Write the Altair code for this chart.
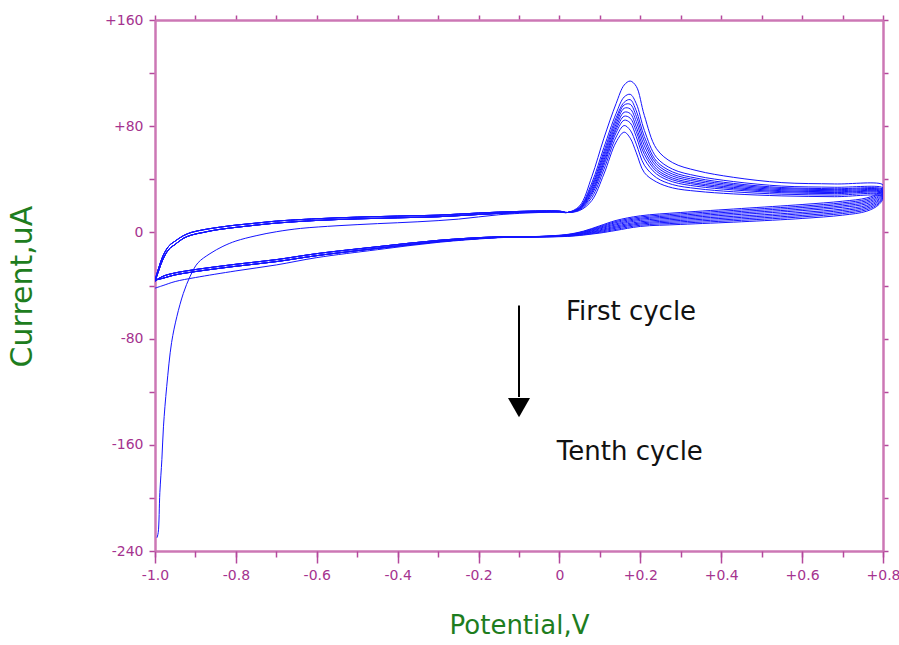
import altair as alt
import pandas as pd

# ---------------- data ----------------
# forward (anodic) scan, common start for cycles 2-10
base_x = [-1.0, -0.99, -0.98, -0.965, -0.95, -0.93, -0.91, -0.88, -0.85, -0.8,
          -0.75, -0.7, -0.6, -0.5, -0.4, -0.3, -0.2, -0.1, 0.0]
base_a = [-37, -28, -20, -12.5, -9, -4.5, -2, 0, 1.8, 3.8,
          5.5, 7, 9, 10.2, 11, 11.8, 13.5, 15, 15.5]
base_b = [-36, -26, -17.5, -10, -6.5, -2.5, 0, 2, 3.5, 5.5,
          7, 8.5, 10.3, 11.5, 12.3, 13, 14.6, 15.8, 16]

# first cycle starts from a strong cathodic current
first_x = [-0.995, -0.992, -0.988, -0.983, -0.979, -0.971, -0.959, -0.946, -0.93, -0.913,
           -0.894, -0.864, -0.832, -0.8, -0.75, -0.7, -0.64, -0.55, -0.45, -0.35,
           -0.25, -0.15, -0.05, 0.0]
first_y = [-230, -226, -196, -171, -146, -116, -83, -63.5, -46, -33,
           -23, -16, -10.5, -6.5, -2.5, 0.5, 3, 5, 6.6, 8,
           10, 13.3, 15, 15.3]

# oxidation peak region, one row per cycle (1st .. 10th)
peak_x = [0.02, 0.05, 0.08, 0.11, 0.14, 0.16, 0.175, 0.19, 0.21, 0.24,
          0.28, 0.34, 0.43, 0.55, 0.68, 0.80]
peak_c1 = [15, 20, 42, 71, 97, 111, 114, 110, 88, 63, 52.5, 46.5, 41.5, 37.5, 36.5, 35.7]
peak_c2 = [15, 19.1, 37.3, 64, 89.5, 102, 104, 97, 76.8, 56.5, 47.6, 42.5, 38.3, 34.9, 34, 33.4]
peak_c3 = [15, 18.7, 35.3, 61, 86.3, 98, 100, 91.5, 72.1, 53.7, 45.5, 40.8, 36.9, 33.8, 32.9, 32.4]
peak_c4 = [15, 18.4, 33.9, 58.8, 84, 96, 96.5, 87.5, 68.6, 51.7, 43.9, 39.5, 35.9, 33, 32.2, 31.7]
peak_c5 = [15, 18.1, 32.5, 56.7, 81.6, 93.5, 93, 83.5, 65.2, 49.7, 42.4, 38.3, 34.9, 32.2, 31.4, 31]
peak_c6 = [15, 17.9, 31, 54.5, 79.3, 90.5, 89.5, 79.5, 61.8, 47.7, 40.9, 37, 33.9, 31.4, 30.6, 30.3]
peak_c7 = [15, 17.6, 29.8, 52.6, 77.3, 87.5, 86, 76, 58.8, 46, 39.6, 36, 33, 30.7, 30, 29.6]
peak_c8 = [15, 17.3, 28.3, 50.5, 75, 84.5, 82.5, 72, 55.3, 44, 38.1, 34.7, 32, 29.9, 29.2, 28.9]
peak_c9 = [15, 17, 26.3, 47.5, 71.8, 80.5, 77, 66.5, 50.6, 41.2, 36, 33, 30.6, 28.8, 28.1, 28]
peak_c10 = [15, 16.5, 24, 44, 68, 75.5, 71, 60, 45, 38, 33.5, 31, 29, 27.5, 26.9, 26.8]

# reverse (cathodic) scan, spread part, one row per cycle
rev_x = [0.79, 0.76, 0.7, 0.6, 0.45, 0.3, 0.2, 0.14, 0.1, 0.06, 0.02, -0.05]
rev_c1 = [30, 26, 23.5, 21, 18, 15, 12.5, 9, 5, 1, -1.5, -3]
rev_c2 = [29, 24.9, 22.3, 19.8, 16.9, 14, 11.6, 8.2, 4.4, 0.7, -1.7, -3.1]
rev_c3 = [28, 23.8, 21.2, 18.7, 15.8, 13, 10.7, 7.4, 3.8, 0.3, -1.8, -3.1]
rev_c4 = [27, 22.7, 20, 17.5, 14.7, 12, 9.9, 6.5, 3.2, 0, -2, -3.2]
rev_c5 = [26, 21.6, 18.9, 16.4, 13.6, 11, 9, 5.7, 2.6, -0.3, -2.2, -3.2]
rev_c6 = [25, 20.4, 17.6, 15.1, 12.4, 10, 8, 4.8, 1.9, -0.7, -2.3, -3.3]
rev_c7 = [24, 19.3, 16.5, 14, 11.3, 9, 7.1, 4, 1.3, -1, -2.5, -3.3]
rev_c8 = [23, 18.2, 15.3, 12.8, 10.2, 8, 6.3, 3.2, 0.7, -1.3, -2.7, -3.4]
rev_c9 = [22, 17.1, 14.2, 11.7, 9.1, 7, 5.4, 2.3, 0.1, -1.7, -2.8, -3.4]
rev_c10 = [21, 16, 13, 10.5, 8, 6, 4.5, 1.5, -0.5, -2, -3, -3.5]

# reverse scan tail toward -1.0 V
tail_x = [-0.15, -0.3, -0.45, -0.6, -0.7, -0.8, -0.9, -0.95, -0.98, -1.0]
tail_first = [-4, -7.5, -13, -19, -24.5, -29, -34, -37, -40, -42]
tail_a = [-3.8, -7, -12, -17.5, -22, -25.5, -29.5, -32, -34.5, -36]
tail_b = [-3.3, -6, -10.8, -16, -20.5, -24, -28, -30.5, -33, -36.5]

peaks = [peak_c1, peak_c2, peak_c3, peak_c4, peak_c5, peak_c6, peak_c7, peak_c8, peak_c9, peak_c10]
revs = [rev_c1, rev_c2, rev_c3, rev_c4, rev_c5, rev_c6, rev_c7, rev_c8, rev_c9, rev_c10]

# axis ticks
x_major = [-1.0, -0.8, -0.6, -0.4, -0.2, 0.0, 0.2, 0.4, 0.6, 0.8]
x_minor = [-1.0, -0.9, -0.8, -0.7, -0.6, -0.5, -0.4, -0.3, -0.2, -0.1,
           0.0, 0.1, 0.2, 0.3, 0.4, 0.5, 0.6, 0.7, 0.8]
y_ticks = [-240, -200, -160, -120, -80, -40, 0, 40, 80, 120, 160]

# annotations
arrow_x = [-0.1]
arrow_top = [-55]
arrow_end = [-124]
arrow_head = [-132]
note_text = ["First cycle", "Tenth cycle"]
note_x = [0.177, 0.174]
note_y = [-66, -171.4]

# ---------------- build the table ----------------
rows = []
for c in range(10):
    if c == 0:
        fx, fy, ty = first_x, first_y, tail_first
    elif c % 2 == 1:
        fx, fy, ty = base_x, base_a, tail_a
    else:
        fx, fy, ty = base_x, base_b, tail_b
    xs = list(fx) + peak_x + rev_x + tail_x
    ys = list(fy) + peaks[c] + revs[c] + ty
    for i, (xv, yv) in enumerate(zip(xs, ys)):
        rows.append({"cycle": c + 1, "i": i, "E": xv, "I": yv})
df = pd.DataFrame(rows)

arrow_df = pd.DataFrame({"x": arrow_x, "y1": arrow_top, "y2": arrow_end, "yh": arrow_head})
note_df = pd.DataFrame({"t": note_text, "x": note_x, "y": note_y})

# ---------------- styling ----------------
FONT = "DejaVu Sans"
DOMAIN = "#cc77b5"
TICK = "#b4489c"
LABEL = "#a5338f"
GREEN = "#1e7d1e"

xscale = alt.Scale(domain=[-1.0, 0.8], nice=False, zero=False)
yscale = alt.Scale(domain=[-240, 160], nice=False, zero=False)

x_label_expr = ("datum.value == 0 ? '0' : (datum.value > 0 ? '+' + format(datum.value, '.1f') "
                ": '-' + format(-datum.value, '.1f'))")
y_label_expr = ("datum.value % 80 != 0 ? '' : "
                "(datum.value > 0 ? '+' + datum.value : '' + datum.value)")

common_axis = dict(domainColor=DOMAIN, domainWidth=2.5, tickColor=TICK, tickWidth=1.5,
                   grid=False, labelFlush=False, labelOverlap=False, offset=0)

x_bottom = alt.Axis(orient="bottom", values=x_major, labelExpr=x_label_expr, tickSize=12,
                    labelPadding=5, labelFont=FONT, labelFontSize=14, labelColor=LABEL,
                    title="Potential,V", titleFont=FONT, titleFontSize=26, titleFontWeight="normal",
                    titleColor=GREEN, titleX=364, titleY=82, titleBaseline="alphabetic",
                    titleAlign="center", **common_axis)
x_bottom_minor = alt.Axis(orient="bottom", values=x_minor, labels=False, tickSize=6,
                          domain=False, title=None, **common_axis)
y_left = alt.Axis(orient="left", values=y_ticks, labelExpr=y_label_expr, tickSize=6,
                  labelPadding=6, labelFont=FONT, labelFontSize=14, labelColor=LABEL,
                  title="Current,uA", titleFont=FONT, titleFontSize=30, titleFontWeight="normal",
                  titleColor=GREEN, titleX=-133, titleY=266, titleAngle=-90,
                  titleBaseline="middle", titleAlign="center", **common_axis)
x_top = alt.Axis(orient="top", values=x_minor, labels=False, tickSize=5, title=None, **common_axis)
y_right = alt.Axis(orient="right", values=y_ticks, labels=False, tickSize=5, title=None, **common_axis)

lines = alt.Chart(df).mark_line(color="#1414ff", strokeWidth=1, interpolate="catmull-rom",
                                clip=True).encode(
    x=alt.X("E:Q", scale=xscale, axis=x_bottom),
    y=alt.Y("I:Q", scale=yscale, axis=y_left),
    detail="cycle:N",
    order=alt.Order("i:Q"),
)

frame = alt.Chart(df).mark_line(opacity=0).encode(
    x=alt.X("E:Q", scale=xscale, axis=x_top),
    y=alt.Y("I:Q", scale=yscale, axis=y_right),
    detail="cycle:N",
    order=alt.Order("i:Q"),
)

minor = alt.Chart(df).mark_line(opacity=0).encode(
    x=alt.X("E:Q", scale=xscale, axis=x_bottom_minor),
    y=alt.Y("I:Q", scale=yscale, axis=None),
    detail="cycle:N",
    order=alt.Order("i:Q"),
)

shaft = alt.Chart(arrow_df).mark_rule(color="black", strokeWidth=2).encode(
    x=alt.X("x:Q", scale=xscale, axis=None),
    y=alt.Y("y1:Q", scale=yscale, axis=None),
    y2="y2:Q",
)
head = alt.Chart(arrow_df).mark_point(shape="triangle-down", size=484, filled=True,
                                      color="black", opacity=1).encode(
    x=alt.X("x:Q", scale=xscale, axis=None),
    y=alt.Y("yh:Q", scale=yscale, axis=None),
)
notes = alt.Chart(note_df).mark_text(font=FONT, fontSize=26, color="#111111",
                                     align="center", baseline="alphabetic").encode(
    x=alt.X("x:Q", scale=xscale, axis=None),
    y=alt.Y("y:Q", scale=yscale, axis=None),
    text="t:N",
)

chart = alt.layer(lines, frame, minor, shaft, head, notes).resolve_axis(
    x="independent", y="independent"
).properties(
    width=728, height=531,
    autosize=alt.AutoSizeParams(type="none"),
    padding={"left": 155, "top": 20, "right": 16, "bottom": 94},
).configure_view(stroke=None).configure(background="white")

chart.save("out.html", embed_options={"renderer": "svg", "actions": False})
